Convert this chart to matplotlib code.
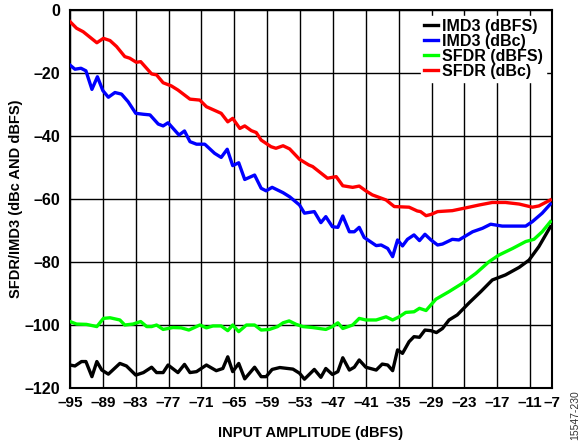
import matplotlib
matplotlib.use("Agg")
from matplotlib import pyplot as plt

# SFDR (dBc)
sfdr_dbc_x = [-95, -93.8, -92.6, -90.1, -88.9, -87.7, -86.5, -85, -84.1, -82.9, -82.1, -80.1, -79.2,
              -78, -76.5, -75.3, -73.1, -71.3, -70.1, -67.4, -66.2, -65.3, -64, -63.1, -61.9, -61,
              -60.1, -58.3, -57.4, -56.1, -54.9, -53.1, -51.4, -50.7, -48, -46.4, -45.2, -43.4,
              -42.2, -41, -39.8, -37.3, -35.8, -33.1, -31.6, -31, -30, -29.1, -27.9, -25.2, -22.7,
              -20.3, -17.9, -15.5, -13, -10.6, -9.4, -7.3]
sfdr_dbc_y = [-3.7, -5.8, -6.9, -10.4, -9.0, -9.7, -11.6, -14.8, -15.3, -16.6, -16.4, -20.3, -20.6,
              -23.1, -24.1, -25.4, -28.3, -28.6, -30.7, -32.8, -35.5, -34.4, -37.6, -36.8, -38.3,
              -38.9, -41.3, -43.4, -43.9, -43.1, -44.1, -47.4, -49.2, -49.7, -53.4, -52.9, -55.8,
              -56.3, -55.9, -57.4, -58.7, -60.3, -62.4, -62.6, -63.8, -64.0, -65.3, -64.9, -64.0,
              -63.7, -62.8, -61.9, -61.1, -61.1, -61.6, -62.6, -62.2, -60.3]

# IMD3 (dBc)
imd3_dbc_x = [-95, -94.1, -93, -92.1, -91, -90, -89, -88, -86.8, -85.6, -84.4, -83, -81.6, -80.4,
              -78.9, -78, -77.1, -75.1, -74.1, -73.1, -71.9, -70.4, -68.6, -67.4, -66.3, -65.3,
              -64.2, -63.1, -61.3, -60.1, -59.2, -58.1, -56.1, -54.9, -53.1, -52.2, -50.4, -49.2,
              -48.3, -47.1, -46.1, -45.2, -44, -43.1, -42.2, -41.3, -39.1, -38.2, -37, -36.1,
              -35.2, -34.3, -33.4, -32.2, -31.2, -30.2, -29.1, -27.9, -27, -25.2, -24, -21.5,
              -19.7, -18.2, -16.1, -11.8, -10.6, -8.8, -7.3]
imd3_dbc_y = [-17.5, -18.8, -18.5, -19.3, -25.2, -21.2, -25.6, -27.7, -26.2, -26.7, -29.1, -32.8,
              -33.1, -33.3, -36.2, -36.8, -35.8, -39.7, -38.4, -41.8, -42.6, -42.6, -45.5, -46.8,
              -44.2, -49.4, -48.5, -53.8, -52.4, -56.6, -57.4, -56.3, -58.0, -59.3, -61.9, -64.5,
              -64.0, -67.5, -65.6, -68.8, -69.0, -65.4, -70.4, -70.4, -69.0, -72.2, -74.8, -74.6,
              -75.7, -78.3, -73.0, -74.9, -72.8, -71.4, -73.2, -71.2, -73.0, -74.6, -74.3, -72.8,
              -73.0, -70.4, -69.3, -68.0, -68.6, -68.6, -67.2, -64.5, -61.6]

# SFDR (dBFS)
sfdr_dbfs_x = [-95, -93.8, -92, -90.1, -88.9, -87.7, -85.9, -85, -83.5, -82.1, -81, -80.1, -79.2,
               -78, -76.2, -74.7, -73.3, -71.3, -70.1, -68.9, -67.4, -66.2, -65.3, -64.2, -62.8,
               -61.3, -60.1, -58.6, -57.1, -56.1, -55, -53.7, -52.5, -50.7, -48.3, -47.1, -46.1,
               -45.2, -43.4, -42.2, -41, -39.1, -37.3, -36.1, -34.9, -33.7, -32.2, -31.2, -30,
               -28.2, -25.8, -23.4, -20.9, -18.5, -16.7, -14.2, -11.8, -10.3, -8.8, -7.3]
sfdr_dbfs_y = [-98.9, -99.7, -99.8, -100.5, -97.9, -97.7, -98.4, -100.0, -99.7, -98.9, -100.5,
               -100.5, -100.0, -101.4, -100.8, -100.9, -101.6, -100.0, -100.9, -100.3, -100.3,
               -101.8, -100.0, -102.1, -100.0, -100.0, -101.6, -101.4, -100.5, -99.3, -98.7,
               -99.8, -100.5, -100.8, -101.4, -100.5, -99.3, -101.1, -100.0, -97.9, -98.4, -98.4,
               -97.4, -98.4, -97.4, -96.0, -95.8, -94.7, -95.4, -91.8, -89.4, -86.8, -83.6,
               -79.9, -77.8, -75.7, -73.5, -72.8, -70.4, -67.2]

# IMD3 (dBFS)
imd3_dbfs_x = [-95, -94.1, -92.9, -92.1, -91, -90.1, -89.2, -88, -85.9, -84.7, -83, -81.6, -80.1,
               -79.2, -78, -77.1, -75.3, -74.1, -73.1, -71.9, -70.1, -68.3, -67.1, -66.2, -65.3,
               -64.2, -63.1, -61.3, -60.1, -59.2, -58.1, -56.7, -54.3, -53.1, -52.2, -50.4, -49.2,
               -48.3, -47.1, -46.1, -45.2, -44, -43.1, -42.2, -41, -39.1, -38, -37, -36.1, -35.2,
               -34.3, -33.1, -32.2, -31.2, -30.2, -29.1, -28.1, -27, -25.8, -24.3, -22.1, -20,
               -17.9, -15.5, -13, -11.2, -9.4, -7.3]
imd3_dbfs_y = [-112.7, -113.0, -111.6, -111.6, -116.4, -111.6, -114.3, -115.6, -112.2, -113.0,
               -115.9, -115.1, -113.4, -115.1, -115.1, -112.7, -115.1, -112.5, -115.1, -114.8,
               -112.7, -114.5, -113.8, -110.1, -114.8, -112.2, -117.1, -113.4, -116.4, -116.4,
               -114.1, -113.5, -114.0, -115.3, -117.2, -114.1, -116.6, -113.8, -115.7, -114.8,
               -110.4, -114.3, -113.4, -111.1, -113.4, -114.3, -112.4, -112.7, -114.5, -107.9,
               -109.0, -105.3, -103.7, -103.9, -101.6, -101.8, -102.4, -101.1, -98.4, -96.8,
               -92.9, -89.4, -85.7, -84.1, -81.7, -79.4, -75.1, -68.8]

x_ticks = [-95, -89, -83, -77, -71, -65, -59, -53, -47, -41, -35, -29, -23, -17, -11, -7]
y_ticks = [-120, -100, -80, -60, -40, -20, 0]

plt.rcParams['font.family'] = ['Liberation Sans', 'DejaVu Sans']

fig = plt.figure(figsize=(5.82, 4.44), dpi=100)
ax = fig.add_axes([0.1203, 0.1261, 0.8282, 0.8514])

lw = 2.4
ax.plot(imd3_dbfs_x, imd3_dbfs_y, color='black', lw=lw, label='IMD3 (dBFS)', zorder=3)
ax.plot(imd3_dbc_x, imd3_dbc_y, color='#0000ff', lw=lw, label='IMD3 (dBc)', zorder=3)
ax.plot(sfdr_dbfs_x, sfdr_dbfs_y, color='#00ff00', lw=lw, label='SFDR (dBFS)', zorder=3)
ax.plot(sfdr_dbc_x, sfdr_dbc_y, color='#ff0000', lw=lw, label='SFDR (dBc)', zorder=3)

ax.set_xlim(-95, -7)
ax.set_ylim(-120, 0)
ax.set_xticks(x_ticks)
ax.set_yticks(y_ticks)
ax.set_xticklabels([str(t).replace('-', '\u2013') for t in x_ticks], fontsize=11, fontweight='bold')
ax.set_yticklabels([str(t).replace('-', '\u2013') for t in y_ticks], fontsize=11.5, fontweight='bold')
ax.tick_params(axis='x', length=0, pad=6)
ax.tick_params(axis='y', length=0, pad=7)
ax.grid(True, color='black', lw=1.0)
for s in ax.spines.values():
    s.set_linewidth(1.5)

ax.set_xlabel('INPUT AMPLITUDE (dBFS)', fontsize=10.5, fontweight='bold', labelpad=11)
ax.set_ylabel('SFDR/IMD3 (dBc AND dBFS)', fontsize=10.5, fontweight='bold', labelpad=1)

leg = ax.legend(loc='upper right', frameon=True, fancybox=False, framealpha=1.0,
                edgecolor='white', prop={'weight': 'bold', 'size': 11.5},
                handlelength=0.85, handletextpad=0.3, labelspacing=0.0,
                borderpad=0.2, borderaxespad=0.35)
leg.set_zorder(5)

fig.text(0.988, 0.008, '15547-230', rotation=90, fontsize=7.5, color='#333333',
         ha='center', va='bottom')

fig.savefig('out.png', dpi=100)
